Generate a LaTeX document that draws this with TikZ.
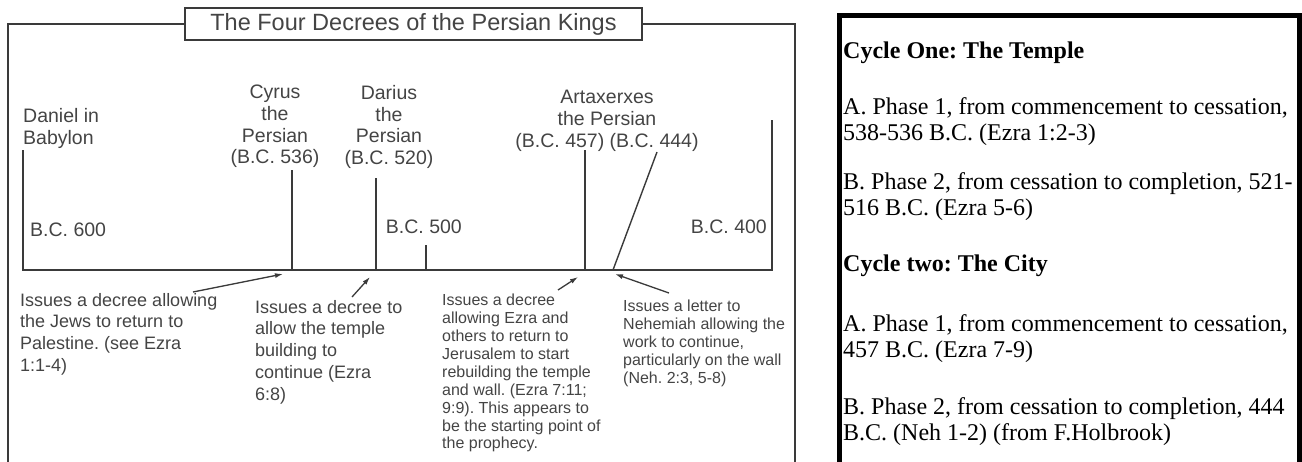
\documentclass[tikz,border=0pt]{standalone}
\usepackage{fontspec}
\setmainfont{Liberation Serif}
\setsansfont{Liberation Sans}
\usepackage{tikz}
\usetikzlibrary{arrows.meta,positioning}
\definecolor{FrameGray}{HTML}{3A3A3A}
\definecolor{InkGray}{HTML}{444444}
\frenchspacing
\tikzset{
  frameline/.style={draw=FrameGray, line width=1.6pt},
  tlline/.style={draw=FrameGray, line width=1.4pt},
  titlebox/.style={draw=FrameGray, line width=1.6pt, fill=white, minimum width=457pt, minimum height=32pt,
                   font=\sffamily\fontsize{23.5}{26}\selectfont, text=InkGray, inner sep=0pt},
  toplbl/.style={font=\sffamily\fontsize{19.5}{21.7}\selectfont, text=InkGray, align=center, inner sep=0pt},
  datelbl/.style={font=\sffamily\fontsize{19.5}{21.7}\selectfont, text=InkGray, inner sep=0pt},
  notebig/.style={font=\sffamily\fontsize{18}{21.7}\selectfont, text=InkGray, align=left, inner sep=0pt, anchor=north west},
  notesmall/.style={font=\sffamily\fontsize{16}{17.9}\selectfont, text=InkGray, align=left, inner sep=0pt, anchor=north west},
  notearr/.style={-{Latex[length=8pt,width=5pt]}, line width=1.3pt, FrameGray},
  cyclehead/.style={font=\rmfamily\bfseries\fontsize{24}{27}\selectfont, inner sep=0pt, anchor=north west},
  cyclepara/.style={font=\rmfamily\fontsize{24}{26.5}\selectfont, align=left, inner sep=0pt, anchor=north west}
}

\begin{document}
\begin{tikzpicture}[x=1pt, y=-1pt, >={Latex[length=8pt,width=5pt]}]
\useasboundingbox (0,0) rectangle (1302,461);
\clip (0,0) rectangle (1302,461);

% left panel: frame and title
\node[titlebox] (title) at (413.5,24) {The Four Decrees of the Persian Kings};
\draw[frameline] (8,470) -- (8,24) -- (title.west);
\draw[frameline] (title.east) -- (795,24) -- (795,470);

% timeline
\coordinate (t600) at (23,150);
\coordinate (base600) at (23,270);
\coordinate (base400) at (772,270);
\coordinate (t400) at (772,120);
\coordinate (y536) at (292,270);
\coordinate (y520) at (376,270);
\coordinate (y500) at (426,270);
\coordinate (y457) at (585,270);
\coordinate (y444) at (613,270);
\draw[tlline] (t600) -- (base600) -- (base400) -- (t400);
\draw[tlline] (y536) -- ++(0,-100);
\draw[tlline] (y520) -- ++(0,-92);
\draw[tlline] (y500) -- ++(0,-25);
\draw[tlline] (y457) -- ++(0,-120);
\draw[tlline] (y444) -- ++(44,-118);

% kings and dates
\node[toplbl, anchor=north west, align=left] (daniel) at (23,108) {Daniel in\\Babylon};
\node[toplbl, anchor=north] (cyrus) at (275,85) {Cyrus\\the\\Persian\\(B.C. 536)};
\node[toplbl, anchor=north] (darius) at (389,85) {Darius\\the\\Persian\\(B.C. 520)};
\node[toplbl, anchor=north] (artax) at (607,90) {Artaxerxes\\the Persian\\(B.C. 457) (B.C. 444)};
\node[datelbl, anchor=west] (bc600) at (30,230) {B.C. 600};
\node[datelbl, anchor=east] (bc500) at (462,227) {B.C. 500};
\node[datelbl, anchor=east] (bc400) at (767,227) {B.C. 400};

% decrees
\node[notebig] (note1) at (20,293) {Issues a decree allowing\\the Jews to return to\\Palestine. (see Ezra\\1:1-4)};
\node[notebig] (note2) at (255,300) {Issues a decree to\\allow the temple\\building to\\continue (Ezra\\6:8)};
\node[notesmall] (note3) at (442,294) {Issues a decree\\allowing Ezra and\\others to return to\\Jerusalem to start\\rebuilding the temple\\and wall. (Ezra 7:11;\\9:9). This appears to\\be the starting point of\\the prophecy.};
\node[notesmall] (note4) at (623,300) {Issues a letter to\\Nehemiah allowing the\\work to continue,\\particularly on the wall\\(Neh. 2:3, 5-8)};
\coordinate (tail1) at (193,292);
\coordinate (head1) at (283,274);
\coordinate (tail2) at (352,297);
\coordinate (head2) at (370,277);
\coordinate (tail3) at (558,290);
\coordinate (head3) at (578,277);
\coordinate (tail4) at (669,293);
\coordinate (head4) at (615,274);
\draw[notearr] (tail1) -- (head1);
\draw[notearr] (tail2) -- (head2);
\draw[notearr] (tail3) -- (head3);
\draw[notearr] (tail4) -- (head4);

% right panel
\draw[line width=5pt] (839.5,470) -- (839.5,15.5) -- (1299.5,15.5) -- (1299.5,470);
\node[cyclehead] (cycle1) at (843,42) {Cycle One: The Temple};
\node[cyclepara] (c1a) at (843,97) {A. Phase 1, from commencement to cessation,\\538-536 B.C. (Ezra 1:2-3)};
\node[cyclepara] (c1b) at (843,172) {B. Phase 2, from cessation to completion, 521-\\516 B.C. (Ezra 5-6)};
\node[cyclehead] (cycle2) at (843,255) {Cycle two: The City};
\node[cyclepara] (c2a) at (843,314) {A. Phase 1, from commencement to cessation,\\457 B.C. (Ezra 7-9)};
\node[cyclepara] (c2b) at (843,397) {B. Phase 2, from cessation to completion, 444\\B.C. (Neh 1-2) (from F.Holbrook)};
\end{tikzpicture}
\end{document}
